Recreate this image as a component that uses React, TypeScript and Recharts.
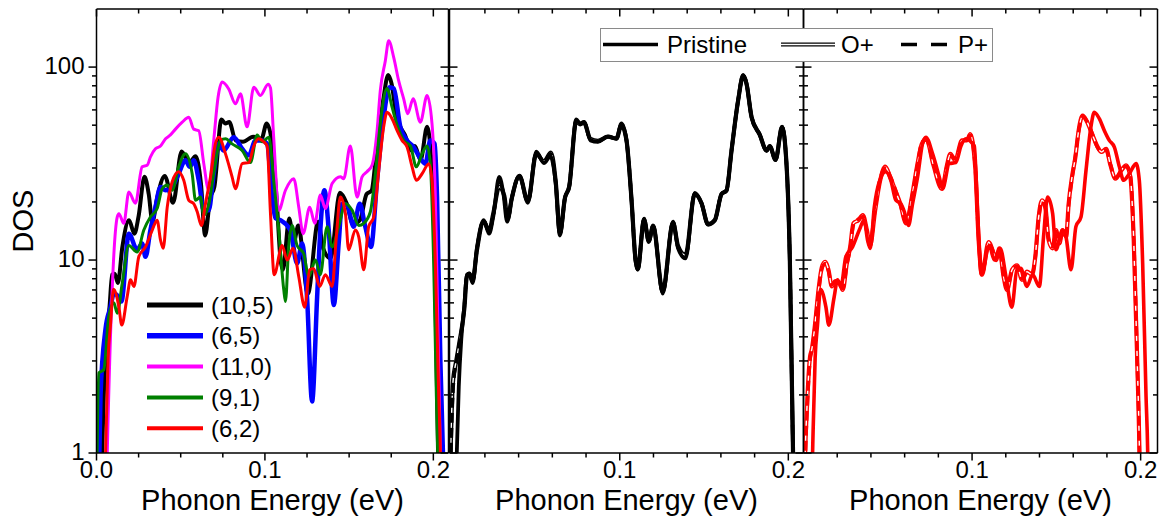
import React from "react"
import { Line, LineChart, XAxis, YAxis } from "recharts"

type Pt = [number, number]

// ticks and names
const dosTicks = [1, 2, 3, 4, 5, 6, 7, 8, 9, 10, 20, 30, 40, 50, 60, 70, 80, 90, 100]
const dosLabels = [1, 10, 100]
const leftTicks = [0, 0.025, 0.05, 0.075, 0.1, 0.125, 0.15, 0.175, 0.2]
const otherTicks = [0.02, 0.04, 0.06, 0.08, 0.1, 0.12, 0.14, 0.16, 0.18, 0.2]
const tubeNames = ["(10,5)", "(6,5)", "(11,0)", "(9,1)", "(6,2)"]
const dopingNames = ["Pristine", "O+", "P+"]

// (10,5) pristine - also the "Pristine" curve of the middle panel
const s105: Pt[] = [
  [0.0028, 0.7], [0.0045, 2.2], [0.006, 3.9], [0.0078, 5.8], [0.0093, 8.4], [0.0108, 8.5],
  [0.0127, 7.6], [0.0153, 11.6], [0.0193, 16.1], [0.0225, 13.7], [0.025, 16.9], [0.0285, 27],
  [0.031, 22], [0.0332, 15.8], [0.036, 21], [0.0405, 27.3], [0.0455, 19.8], [0.0505, 36.5],
  [0.055, 31.8], [0.0588, 34.5], [0.062, 25], [0.0645, 13.4], [0.0675, 21], [0.07, 24],
  [0.0742, 53.5], [0.0765, 51], [0.0788, 52], [0.0826, 41.7], [0.087, 41], [0.093, 43.6],
  [0.098, 42.6], [0.101, 51], [0.104, 41.7], [0.107, 20.4], [0.1093, 10], [0.1107, 8.9],
  [0.1144, 16.4], [0.1172, 12.4], [0.1198, 15.1], [0.1255, 6.7], [0.1316, 15.8], [0.1346, 11.5],
  [0.139, 10.2], [0.1445, 22.3], [0.1485, 19.7], [0.1524, 15.3], [0.1564, 16.1], [0.1604, 22],
  [0.1633, 22.9], [0.1663, 36.9], [0.1702, 67], [0.1732, 91], [0.1752, 82], [0.1782, 55],
  [0.1831, 44.5], [0.1871, 36.9], [0.189, 39], [0.1924, 33], [0.1963, 49], [0.199, 30.5],
  [0.2009, 10], [0.2028, 1], [0.2034, 0.6],
]

const s65: Pt[] = [
  [0.0012, 0.6], [0.0024, 2.0], [0.0053, 4.35], [0.0083, 5.7], [0.0103, 6.7], [0.012, 6.6],
  [0.0148, 6.1], [0.0192, 13.7], [0.0241, 11.3], [0.0271, 12.2], [0.0291, 10.4], [0.032, 14.3],
  [0.035, 18.8], [0.038, 23.9], [0.041, 23], [0.0449, 23.9], [0.0488, 28], [0.0528, 32.9],
  [0.0554, 30.4], [0.0577, 32.9], [0.0607, 25.9], [0.0637, 18.1], [0.0666, 18.1], [0.0696, 28],
  [0.0726, 40], [0.0755, 37], [0.0815, 43.3], [0.0865, 37.7], [0.0904, 34.9], [0.0944, 41.7],
  [0.0983, 41.7], [0.1013, 40], [0.1043, 21.2], [0.1062, 16.5], [0.1092, 16.1], [0.1151, 14.3],
  [0.1191, 9.6], [0.1221, 12.2], [0.125, 6.45], [0.128, 1.85], [0.131, 6.45], [0.1329, 14.3],
  [0.1353, 23], [0.1379, 14.3], [0.1409, 5.85], [0.1438, 12.2], [0.1458, 19.6], [0.1488, 19.2],
  [0.1527, 14.9], [0.1563, 19.6], [0.1596, 14.9], [0.163, 11.7], [0.1666, 25.9], [0.1705, 55],
  [0.174, 78.7], [0.1765, 77.5], [0.1804, 49], [0.1844, 41.7], [0.1883, 38.5], [0.1923, 33.6],
  [0.1953, 31.6], [0.1982, 41.7], [0.2008, 40], [0.2022, 21.2], [0.2042, 2.93], [0.2057, 1],
  [0.2062, 0.6],
]

const s110: Pt[] = [
  [0.0058, 0.6], [0.0065, 1.1], [0.0123, 16.7], [0.0133, 17.4], [0.0162, 15.5], [0.0192, 22.5],
  [0.0231, 19.7], [0.0271, 30.4], [0.0301, 31], [0.032, 34.2], [0.035, 37.7], [0.038, 39],
  [0.041, 42.5], [0.0439, 44.5], [0.0469, 47.7], [0.0509, 51.8], [0.0548, 55], [0.0577, 47.7],
  [0.0607, 46.8], [0.0637, 31.6], [0.0666, 23], [0.0696, 41.7], [0.0722, 70], [0.0746, 83.6],
  [0.0785, 77], [0.0825, 64.5], [0.0855, 72.7], [0.0894, 49], [0.0934, 78.7], [0.0973, 71.3],
  [0.1019, 81.6], [0.1033, 78], [0.1052, 43.3], [0.1082, 18.1], [0.1122, 23], [0.1171, 26.4],
  [0.1201, 18.8], [0.1227, 13.7], [0.1266, 18.8], [0.1296, 15.5], [0.1329, 21.7], [0.1359, 18.5],
  [0.1399, 24.9], [0.1448, 27], [0.1468, 26.4], [0.1507, 39], [0.1547, 21.2], [0.1577, 27],
  [0.1606, 28.7], [0.1636, 31], [0.1666, 46.8], [0.1685, 75.6], [0.1715, 108], [0.1735, 137],
  [0.1765, 112], [0.1794, 85], [0.1824, 68.5], [0.1848, 57.3], [0.188, 68.5], [0.1923, 51.8],
  [0.1963, 71.3], [0.1992, 51], [0.2012, 21.2], [0.2031, 2.93], [0.2042, 1], [0.2047, 0.6],
]

const s91: Pt[] = [
  [0.0002, 0.8], [0.0014, 2.6], [0.0043, 2.7], [0.0073, 5.1], [0.0103, 6], [0.0123, 5.3],
  [0.0153, 7.6], [0.0192, 11.9], [0.0241, 11], [0.0281, 14.3], [0.032, 16.7], [0.036, 18.5],
  [0.039, 23.4], [0.042, 24.5], [0.0449, 23], [0.0488, 30.4], [0.0528, 35.5], [0.0568, 28],
  [0.0588, 20.4], [0.0617, 21.2], [0.0637, 17.1], [0.0666, 19.3], [0.0696, 28], [0.0736, 41.7],
  [0.0766, 42.5], [0.0805, 40], [0.0865, 37], [0.0914, 32], [0.0954, 44.5], [0.0983, 41],
  [0.1023, 43.3], [0.1052, 25.9], [0.1082, 14.3], [0.1112, 7], [0.1122, 6.1], [0.1141, 11.7],
  [0.1161, 15.1], [0.1191, 11.9], [0.123, 10.8], [0.126, 8.2], [0.13, 10], [0.1329, 8.4],
  [0.1369, 14.9], [0.1399, 11.7], [0.1438, 14.9], [0.1478, 19.6], [0.1518, 18.1], [0.1557, 15.1],
  [0.1587, 15.5], [0.1626, 17.8], [0.1656, 28], [0.1685, 51], [0.1725, 77.5], [0.1755, 62],
  [0.1785, 50], [0.1824, 41.7], [0.1864, 39], [0.1899, 30.4], [0.1933, 35.5], [0.1963, 39],
  [0.1982, 31.6], [0.2002, 9.6], [0.2018, 1.97], [0.2026, 1], [0.203, 0.6],
]

// (6,2) pristine - also the "Pristine" curve of the right panel
const s62: Pt[] = [
  [0.0048, 0.6], [0.0055, 1.1], [0.0069, 3.1], [0.0083, 4.6], [0.0101, 7.05], [0.0133, 5.7],
  [0.015, 4.6], [0.0182, 6.45], [0.0202, 7.9], [0.0222, 7.3], [0.0251, 10.4], [0.0291, 11.7],
  [0.0331, 14.3], [0.036, 16.1], [0.038, 12.7], [0.0396, 11.5], [0.042, 18.8], [0.0449, 25.4],
  [0.0488, 28.7], [0.0518, 25.9], [0.0548, 20.4], [0.0577, 19.6], [0.0598, 17.8], [0.0623, 15.1],
  [0.0647, 19.6], [0.0677, 27], [0.0706, 40], [0.0726, 43.3], [0.0766, 35.5], [0.0805, 27],
  [0.0825, 23.4], [0.0865, 31.6], [0.0904, 32], [0.0934, 39], [0.0963, 42.5], [0.0993, 41],
  [0.1013, 39], [0.1033, 17.4], [0.1055, 8.4], [0.1102, 11.9], [0.1132, 10], [0.1167, 11.5],
  [0.1201, 8.2], [0.1236, 5.7], [0.1266, 8.9], [0.1289, 9.05], [0.1325, 7.3], [0.1359, 8.4],
  [0.1399, 7.3], [0.1424, 13.2], [0.1448, 21.2], [0.1478, 17.4], [0.1497, 11.3], [0.1537, 14.3],
  [0.1557, 13.2], [0.1587, 8.9], [0.1616, 14.9], [0.1646, 16.7], [0.1676, 29.2], [0.1705, 49],
  [0.1725, 58.3], [0.1755, 54], [0.1785, 46.8], [0.1814, 41.7], [0.1844, 38.5], [0.1874, 30.4],
  [0.1899, 25.9], [0.1933, 28], [0.1973, 31.6], [0.1992, 25.9], [0.2012, 9.6], [0.2032, 1.97],
  [0.2042, 1], [0.2046, 0.6],
]

// middle panel, (10,5) doped
const o105: Pt[] = [
  [-0.0008, 0.7], [0.001, 2.3], [0.003, 3.0], [0.005, 3.8], [0.0078, 5.6], [0.0093, 8.2],
  [0.0108, 8.5], [0.0127, 7.8], [0.0153, 11.3], [0.0193, 15.8], [0.0225, 14.2], [0.025, 17.5],
  [0.0285, 24], [0.0315, 21.5], [0.0335, 16.3], [0.036, 21], [0.0405, 27.3], [0.0455, 20.2],
  [0.0505, 35.5], [0.055, 32.5], [0.0592, 36], [0.062, 25.5], [0.0645, 13.8], [0.0675, 21],
  [0.07, 24], [0.0742, 52.5], [0.0765, 50.5], [0.0788, 51.5], [0.0826, 42.5], [0.087, 41.5],
  [0.093, 43.6], [0.098, 42.6], [0.101, 50], [0.104, 41.7], [0.107, 20.4], [0.1093, 10.2],
  [0.1107, 9], [0.1144, 16.2], [0.1172, 12.6], [0.1198, 15], [0.1255, 6.9], [0.1316, 15.6],
  [0.1346, 11.8], [0.139, 10.6], [0.1445, 22], [0.1485, 19.7], [0.1524, 15.3], [0.1564, 16.1],
  [0.1604, 22], [0.1633, 22.9], [0.1663, 36.9], [0.1702, 67], [0.1732, 90], [0.1752, 82],
  [0.1782, 55], [0.1831, 44.5], [0.1871, 36.9], [0.189, 39], [0.1924, 33], [0.1963, 49],
  [0.199, 30.5], [0.2009, 10], [0.2028, 1], [0.2034, 0.6],
]

const p105: Pt[] = [
  [-0.0006, 0.7], [0.0012, 2.2], [0.0032, 3.0], [0.0052, 3.85], [0.0078, 5.7], [0.0093, 8.3],
  [0.0108, 8.5], [0.0127, 7.7], [0.0153, 11.4], [0.0193, 16], [0.0225, 14], [0.025, 17.2],
  [0.0285, 25], [0.0313, 21.8], [0.0334, 16], [0.036, 21], [0.0405, 27.3], [0.0455, 20],
  [0.0505, 36], [0.055, 32.2], [0.059, 35.5], [0.062, 25.3], [0.0645, 13.6], [0.0675, 21],
  [0.07, 24], [0.0742, 53], [0.0765, 50.8], [0.0788, 51.8], [0.0826, 42], [0.087, 41.2],
  [0.093, 43.6], [0.098, 42.6], [0.101, 50.5], [0.104, 41.7], [0.107, 20.4], [0.1093, 10.1],
  [0.1107, 8.95], [0.1144, 16.3], [0.1172, 12.5], [0.1198, 15], [0.1255, 6.8], [0.1316, 15.7],
  [0.1346, 11.6], [0.139, 10.4], [0.1445, 22.1], [0.1485, 19.7], [0.1524, 15.3], [0.1564, 16.1],
  [0.1604, 22], [0.1633, 22.9], [0.1663, 36.9], [0.1702, 67], [0.1732, 90.5], [0.1752, 82],
  [0.1782, 55], [0.1831, 44.5], [0.1871, 36.9], [0.189, 39], [0.1924, 33], [0.1963, 49],
  [0.199, 30.5], [0.2009, 10], [0.2028, 1], [0.2034, 0.6],
]

// right panel, (6,2) doped
const o62: Pt[] = [
  [0.0005, 0.6], [0.001, 1], [0.002, 1.68], [0.0039, 3.16], [0.0049, 3.43], [0.0069, 4.7],
  [0.0089, 7], [0.0109, 9.2], [0.0128, 9.8], [0.0148, 8.9], [0.0168, 7.3], [0.0188, 7.7],
  [0.0213, 7.6], [0.0233, 7.0], [0.0257, 9.6], [0.0277, 11.7], [0.0296, 15.5], [0.0326, 16.1],
  [0.0352, 17.1], [0.0376, 14.3], [0.0395, 11.9], [0.0425, 18.1], [0.0455, 25.9], [0.0485, 30.5],
  [0.0514, 27], [0.0544, 23], [0.0574, 19.6], [0.0609, 15.5], [0.0643, 21.2], [0.0673, 30.4],
  [0.0702, 40], [0.0728, 42.5], [0.0771, 31], [0.0821, 23.4], [0.0851, 31], [0.0871, 35.5],
  [0.09, 32.9], [0.094, 41.7], [0.097, 41.7], [0.0989, 45], [0.1019, 30], [0.1039, 12.7],
  [0.1059, 8.4], [0.1098, 12.4], [0.1128, 10.8], [0.1142, 10], [0.1162, 11.5], [0.1187, 8.2],
  [0.1207, 7.0], [0.1237, 8.9], [0.1267, 9.4], [0.1296, 7.9], [0.1326, 8.7], [0.1356, 8.4],
  [0.1375, 10.4], [0.1395, 16.7], [0.1415, 20.4], [0.1435, 18.8], [0.1454, 12.7], [0.1478, 11.5],
  [0.1498, 14.3], [0.1518, 12.2], [0.1537, 14.3], [0.1558, 13.2], [0.1573, 19.6], [0.1593, 27],
  [0.1613, 34.2], [0.1632, 46.8], [0.1656, 56], [0.1682, 52], [0.1712, 45], [0.1742, 39],
  [0.1767, 36.3], [0.1795, 37.7], [0.1821, 31], [0.185, 26.4], [0.1886, 29.2], [0.1914, 31],
  [0.1939, 27], [0.1959, 12.7], [0.1979, 3.16], [0.1993, 1], [0.1997, 0.6],
]

const p62: Pt[] = [
  [0.0006, 0.6], [0.0012, 1], [0.0022, 1.7], [0.004, 3.1], [0.005, 3.4], [0.0069, 4.6],
  [0.0089, 6.8], [0.0109, 9.0], [0.0128, 9.6], [0.0148, 8.8], [0.0168, 7.4], [0.0188, 7.8],
  [0.0213, 7.5], [0.0233, 7.1], [0.0257, 9.4], [0.0277, 11.5], [0.0296, 15.2], [0.0326, 16.3],
  [0.0352, 16.8], [0.0376, 14.1], [0.0395, 12.1], [0.0425, 18.4], [0.0455, 26.3], [0.0485, 30],
  [0.0514, 27.3], [0.0544, 23.3], [0.0574, 19.4], [0.0609, 15.7], [0.0643, 21], [0.0673, 30],
  [0.0702, 40.5], [0.0728, 42], [0.0771, 31.4], [0.0821, 23.6], [0.0851, 30.6], [0.0871, 35],
  [0.09, 33.3], [0.094, 41.2], [0.097, 42], [0.0989, 44.5], [0.1019, 30], [0.1039, 12.7],
  [0.1059, 8.5], [0.1098, 12.2], [0.1128, 10.9], [0.1142, 10.1], [0.1162, 11.4], [0.1187, 8.3],
  [0.1207, 7.1], [0.1237, 8.8], [0.1267, 9.3], [0.1296, 8.0], [0.1326, 8.6], [0.1356, 8.5],
  [0.1375, 10.3], [0.1395, 16.4], [0.1415, 20.1], [0.1435, 18.5], [0.1454, 12.9], [0.1478, 11.7],
  [0.1498, 14.1], [0.1518, 12.4], [0.1537, 14.1], [0.1558, 13.4], [0.1573, 19.3], [0.1593, 26.6],
  [0.1613, 34.6], [0.1632, 46.2], [0.1656, 55.5], [0.1682, 52.5], [0.1712, 45.5], [0.1742, 38.6],
  [0.1767, 36.6], [0.1795, 37.3], [0.1821, 31.3], [0.185, 26.6], [0.1886, 29], [0.1914, 30.7],
  [0.1939, 27.2], [0.1959, 12.9], [0.1979, 3.2], [0.1993, 1], [0.1997, 0.6],
]

const W = 1162
const H = 524
const TOP = 9
const BOTTOM = 453
const FONT = "'Liberation Sans', Arial, Helvetica, sans-serif"
const axisStyle = { stroke: "#000", strokeWidth: 1.5 }

const rows = (pts: Pt[]) => pts.map(([e, d]) => ({ e, d }))

function yTick(edgeX: number, dir: number, withLabels: boolean) {
  return (p: any) => {
    const v = Number(p.payload.value)
    const major = dosLabels.includes(v)
    const len = major ? 8 : 4.5
    return (
      <g>
        <line x1={edgeX} x2={edgeX + dir * len} y1={p.y} y2={p.y} stroke="#000" strokeWidth={1.5} />
        {withLabels && major ? (
          <text x={edgeX - len - 4} y={p.y} dy="0.3em" textAnchor="end" fontSize={24} fontFamily={FONT} fill="#000">
            {v}
          </text>
        ) : null}
      </g>
    )
  }
}

function xTick(edgeY: number, dir: number, labels: number[]) {
  return (p: any) => {
    const v = Number(p.payload.value)
    const major = Math.abs(v * 10 - Math.round(v * 10)) < 1e-6
    const len = major ? 7.5 : 4.5
    const lab = labels.some((l) => Math.abs(l - v) < 1e-6)
    return (
      <g>
        <line x1={p.x} x2={p.x} y1={edgeY} y2={edgeY + dir * len} stroke="#000" strokeWidth={1.5} />
        {lab ? (
          <text x={p.x} y={edgeY + 25} textAnchor="middle" fontSize={24} fontFamily={FONT} fill="#000">
            {v.toFixed(1)}
          </text>
        ) : null}
      </g>
    )
  }
}

const mk = (id: string, data: Pt[], color: string, width: number, dash?: string) => (
  <Line
    key={id}
    xAxisId="b"
    yAxisId="l"
    data={rows(data)}
    dataKey="d"
    type="monotone"
    stroke={color}
    strokeWidth={width}
    strokeDasharray={dash}
    strokeLinejoin="round"
    dot={false}
    activeDot={false}
    isAnimationActive={false}
  />
)

interface PanelProps {
  left: number
  right: number
  domain: [number, number]
  ticks: number[]
  labels: number[]
  outer: boolean
  lines: React.ReactNode[]
  anchor: Pt[]
}

function Panel({ left, right, domain, ticks, labels, outer, lines, anchor }: PanelProps) {
  return (
    <div style={{ position: "absolute", left: 0, top: 0 }}>
      <LineChart
        width={W}
        height={H}
        margin={{ top: TOP, bottom: H - BOTTOM - 30, left: outer ? left - 60 : left, right: W - right }}
      >
        <XAxis
          xAxisId="b"
          dataKey="e"
          type="number"
          domain={domain}
          allowDataOverflow
          ticks={ticks}
          interval={0}
          height={30}
          tickSize={0}
          tickMargin={0}
          tickLine={false}
          axisLine={axisStyle}
          tick={xTick(BOTTOM, 1, labels)}
          label={{ value: "Phonon Energy (eV)", position: "bottom", offset: 6, fontSize: 29, fill: "#000", fontFamily: FONT }}
        />
        <XAxis
          xAxisId="t"
          orientation="top"
          mirror
          dataKey="e"
          type="number"
          domain={domain}
          allowDataOverflow
          ticks={ticks}
          interval={0}
          height={1}
          tickSize={0}
          tickMargin={0}
          tickLine={false}
          axisLine={axisStyle}
          tick={xTick(TOP, 1, [])}
        />
        <YAxis
          yAxisId="l"
          type="number"
          scale="log"
          domain={[1, 200]}
          allowDataOverflow
          ticks={dosTicks}
          interval={0}
          width={outer ? 60 : 1}
          mirror={!outer}
          tickSize={0}
          tickMargin={0}
          tickLine={false}
          axisLine={axisStyle}
          tick={yTick(left, outer ? -1 : 1, outer)}
          label={
            outer
              ? {
                  content: () => (
                    <text
                      transform="translate(23,221) rotate(-90)"
                      dy="0.36em"
                      textAnchor="middle"
                      fontSize={29}
                      fontFamily={FONT}
                      fill="#000"
                    >
                      DOS
                    </text>
                  ),
                }
              : undefined
          }
        />
        <YAxis
          yAxisId="r"
          orientation="right"
          mirror
          type="number"
          scale="log"
          domain={[1, 200]}
          allowDataOverflow
          ticks={dosTicks}
          interval={0}
          width={1}
          tickSize={0}
          tickMargin={0}
          tickLine={false}
          axisLine={axisStyle}
          tick={yTick(right, -1, false)}
        />
        <Line
          xAxisId="t"
          yAxisId="r"
          data={rows(anchor)}
          dataKey="d"
          stroke="none"
          dot={false}
          activeDot={false}
          isAnimationActive={false}
        />
        {lines}
      </LineChart>
    </div>
  )
}

const tubeColors = ["#000000", "#0000ff", "#ff00ff", "#008000", "#ff0000"]
const tubeWidths = [4, 4.5, 3, 3, 3]

export default function App() {
  const tubes = [s105, s65, s110, s91, s62]
  const left = tubes.map((d, i) => mk(`t${i}`, d, tubeColors[i], tubeWidths[i]))
  const mid = [
    mk("o-out", o105, "#000", 4.2),
    mk("o-in", o105, "#fff", 1.4),
    mk("p", p105, "#000", 3.5, "10 5"),
    mk("pr", s105, "#000", 3.8),
  ]
  const right = [
    mk("o-out", o62, "#ff0000", 4.2),
    mk("o-in", o62, "#fff", 1.4),
    mk("p", p62, "#ff0000", 3.5, "10 5"),
    mk("pr", s62, "#ff0000", 3.6),
  ]

  return (
    <div style={{ position: "absolute", left: 0, top: 0, width: W, height: H, background: "#fff", overflow: "hidden" }}>
      <Panel left={96.5} right={448.5} domain={[0, 0.209]} ticks={leftTicks} labels={[0, 0.1, 0.2]} outer lines={left} anchor={s105} />
      <Panel left={449.5} right={803.5} domain={[-0.001, 0.209]} ticks={otherTicks} labels={[0.1, 0.2]} outer={false} lines={mid} anchor={s105} />
      <Panel left={803.5} right={1157.5} domain={[0, 0.21]} ticks={otherTicks} labels={[0.1, 0.2]} outer={false} lines={right} anchor={s62} />
      <svg width={W} height={H} style={{ position: "absolute", left: 0, top: 0, pointerEvents: "none" }}>
        {tubeNames.map((n, i) => {
          const y = 305 + i * 30.8
          return (
            <g key={n}>
              <line x1={147} x2={203} y1={y} y2={y} stroke={tubeColors[i]} strokeWidth={tubeWidths[i] + 1} />
              <text x={211} y={y} dy="0.36em" fontSize={24} fontFamily={FONT} fill="#000">
                {n}
              </text>
            </g>
          )
        })}
        <rect x={600.5} y={28.5} width={392} height={33} fill="#fff" stroke="#8a8a8a" strokeWidth={1} />
        <line x1={603} x2={658} y1={44.5} y2={44.5} stroke="#000" strokeWidth={3.5} />
        <text x={667} y={44.5} dy="0.36em" fontSize={24} fontFamily={FONT} fill="#000">
          {dopingNames[0]}
        </text>
        <line x1={781} x2={835} y1={44.5} y2={44.5} stroke="#000" strokeWidth={4.2} />
        <line x1={781} x2={835} y1={44.5} y2={44.5} stroke="#fff" strokeWidth={1.4} />
        <text x={841} y={44.5} dy="0.36em" fontSize={24} fontFamily={FONT} fill="#000">
          {dopingNames[1]}
        </text>
        <line x1={901} x2={947} y1={44.5} y2={44.5} stroke="#000" strokeWidth={3.5} strokeDasharray="16 14" />
        <text x={958} y={44.5} dy="0.36em" fontSize={24} fontFamily={FONT} fill="#000">
          {dopingNames[2]}
        </text>
      </svg>
    </div>
  )
}
